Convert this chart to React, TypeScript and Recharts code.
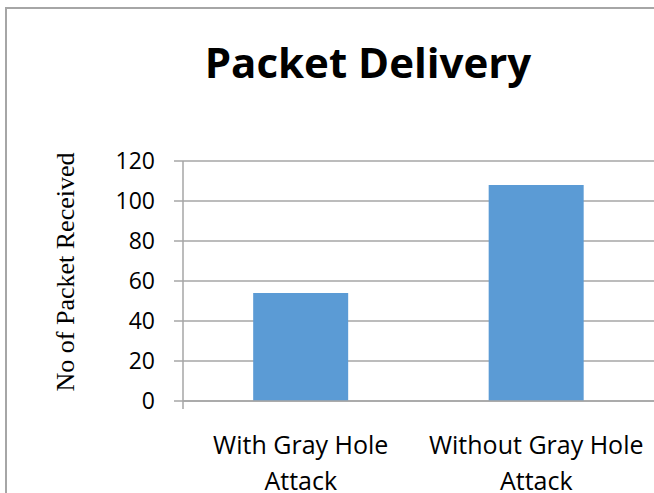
import React from 'react';
import { BarChart, Bar, XAxis, YAxis, CartesianGrid } from 'recharts';

// Packets received in each scenario
const categories = ['With Gray Hole Attack', 'Without Gray Hole Attack'];
const categoryLines = [
  ['With Gray Hole', 'Attack'],
  ['Without Gray Hole', 'Attack'],
];
const packetsReceived = [54, 108];
const yTicks = [0, 20, 40, 60, 80, 100, 120];
const edgeTicks = [0, 1, 2];
const chartTitle = 'Packet Delivery';
const yAxisTitle = 'No of Packet Received';

const data = categories.map((name, i) => ({
  name,
  lines: categoryLines[i],
  received: packetsReceived[i],
}));

const W = 654;
const H = 493;
const GRID = '#a6a6a6';
const BAR = '#5b9bd5';
const SANS = '"Open Sans", "Noto Sans", sans-serif';
const SERIF = '"Liberation Serif", "DejaVu Serif", serif';

const CategoryTick = (props: any) => {
  const { x, y, index } = props;
  const row = data[index];
  const lines = row ? row.lines : [];
  return (
    <text textAnchor="middle" fontFamily={SANS} fontSize={25} fill="#000">
      {lines.map((line: string, j: number) => (
        <tspan key={j} x={x} y={y + 43 + j * 36}>
          {line}
        </tspan>
      ))}
    </text>
  );
};

const YTitle = (props: any) => {
  const vb = props.viewBox || { x: 0, y: 0, width: 0, height: 0 };
  const cx = vb.x - 49;
  const cy = vb.y + vb.height / 2 - 9;
  return (
    <text
      transform={`translate(${cx},${cy}) rotate(-90)`}
      textAnchor="middle"
      fontFamily={SERIF}
      fontSize={26}
      fill="#000"
    >
      {yAxisTitle}
    </text>
  );
};

export default function App() {
  return (
    <div
      style={{
        position: 'absolute',
        left: 0,
        top: 0,
        width: W,
        height: H,
        overflow: 'hidden',
        background: '#fff',
      }}
    >
      <div style={{ position: 'absolute', left: 0, top: 0 }}>
        <BarChart
          width={W}
          height={H}
          data={data}
          margin={{ top: 161, right: 0, bottom: 2, left: 123 }}
          barCategoryGap="29.8%"
        >
          <CartesianGrid vertical={false} stroke={GRID} strokeWidth={1.5} />
          <XAxis
            xAxisId="a"
            type="number"
            domain={[0, 2]}
            ticks={edgeTicks}
            tickFormatter={() => ''}
            axisLine={{ stroke: GRID, strokeWidth: 1.5 }}
            tickLine={{ stroke: GRID, strokeWidth: 1.5 }}
            tickSize={8}
            height={8}
          />
          <XAxis
            xAxisId="b"
            dataKey="name"
            height={82}
            tickLine={false}
            tickSize={0}
            axisLine={false}
            tick={<CategoryTick />}
            interval={0}
          />
          <YAxis
            domain={[0, 120]}
            ticks={yTicks}
            width={60}
            tickSize={9}
            tickMargin={19}
            axisLine={{ stroke: GRID, strokeWidth: 1.5 }}
            tickLine={{ stroke: GRID, strokeWidth: 1.5 }}
            tick={{ fontFamily: SANS, fontSize: 23, fill: '#000' }}
            label={{ content: <YTitle /> }}
          />
          <Bar
            xAxisId="b"
            dataKey="received"
            fill={BAR}
            isAnimationActive={false}
          />
        </BarChart>
      </div>
      {/* title and chart frame */}
      <svg
        width={W}
        height={H}
        style={{ position: 'absolute', left: 0, top: 0, pointerEvents: 'none' }}
      >
        <rect x={5} y={7} width={W} height={2} fill={GRID} />
        <rect x={5} y={7} width={2} height={H} fill={GRID} />
        <text
          x={368}
          y={78}
          textAnchor="middle"
          fontFamily={SANS}
          fontWeight={700}
          fontSize={42}
          fill="#000"
        >
          {chartTitle}
        </text>
      </svg>
    </div>
  );
}
